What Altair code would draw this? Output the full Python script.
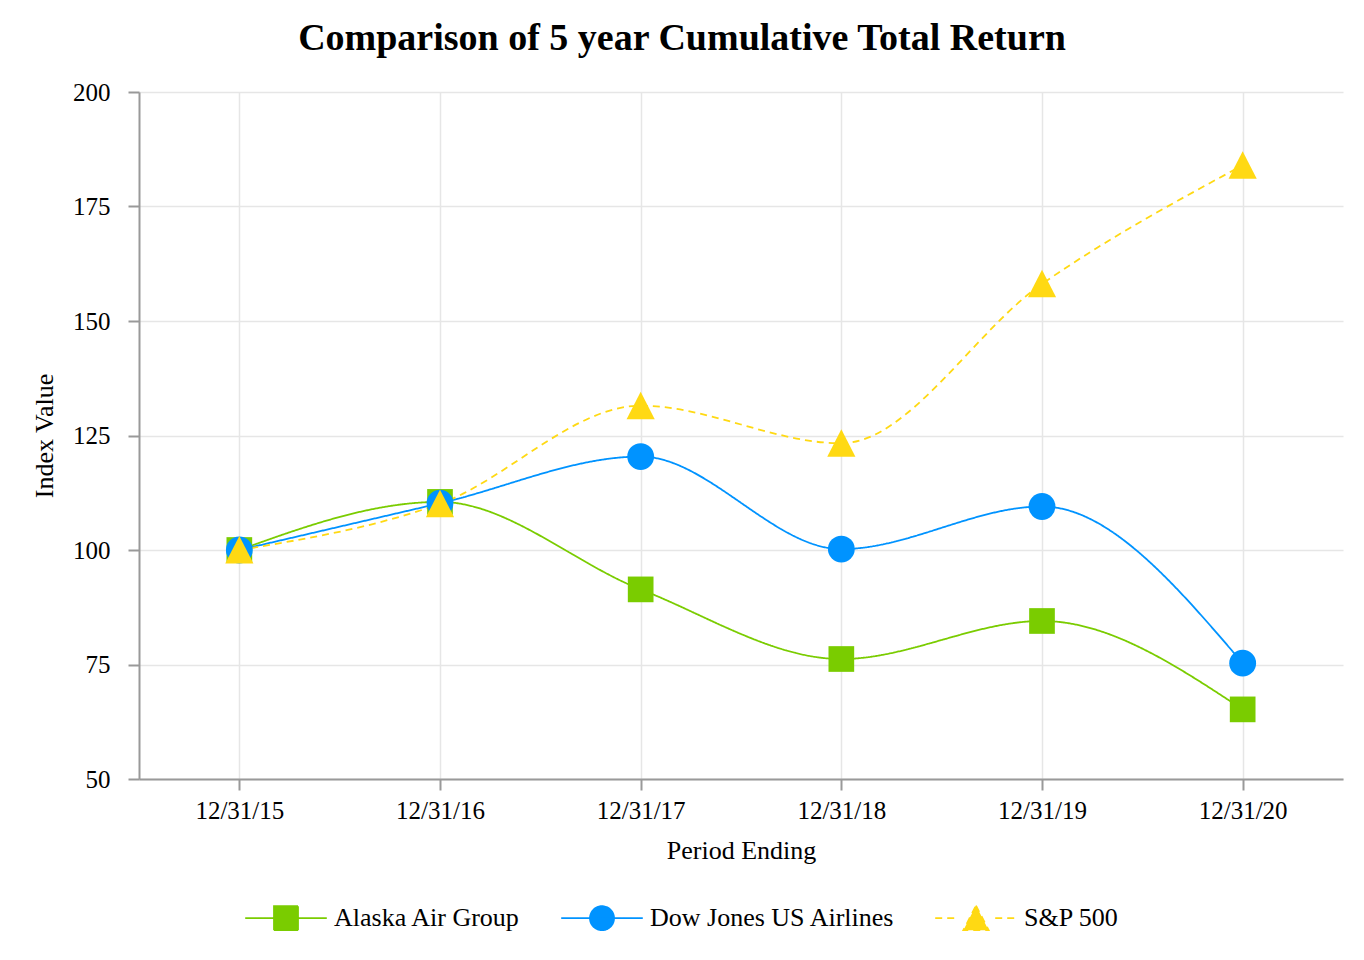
import altair as alt
import pandas as pd

periods = ["12/31/15", "12/31/16", "12/31/17", "12/31/18", "12/31/19", "12/31/20"]
series_names = ["Alaska Air Group", "Dow Jones US Airlines", "S&P 500"]
alaska = [100, 110.5, 91.4, 76.2, 84.5, 65.2]
dowjones = [100, 110.2, 120.4, 100.2, 109.5, 75.3]
sp500 = [100, 110.1, 131.5, 123.3, 158.1, 184.0]
y_ticks = [50, 75, 100, 125, 150, 175, 200]

colors = ["#7ACC00", "#0093FF", "#FFD913"]
dashes = [[1, 0], [1, 0], [7, 5]]
legend_paths = [
    "M-3.4,0H3.4M-1,-1H1V1H-1Z",
    "M-3.4,0H3.4M1,0A1,1 0 1,1 -1,0A1,1 0 1,1 1,0Z",
    "M-3.4,0H-1.6M-0.6,0H0.6M1.6,0H3.4M0,-1.05L1.05,1L-1.05,1Z",
]

rows = []
for name, vals in zip(series_names, [alaska, dowjones, sp500]):
    for i, (p, v) in enumerate(zip(periods, vals)):
        rows.append({"series": name, "period": p, "idx": i, "value": v})
df = pd.DataFrame(rows)

FONT = "Liberation Serif"

x_enc = alt.X(
    "period:N",
    sort=periods,
    scale=alt.Scale(type="point", padding=0.5),
    axis=alt.Axis(
        title="Period Ending",
        labelAngle=0,
        grid=True,
        tickSize=11,
        labelPadding=8,
        titlePadding=14,
    ),
)
y_enc = alt.Y(
    "value:Q",
    scale=alt.Scale(domain=[50, 200], nice=False, zero=False),
    axis=alt.Axis(
        title="Index Value",
        values=y_ticks,
        tickSize=11,
        labelPadding=18,
        titlePadding=15,
    ),
)
color_scale = alt.Scale(domain=series_names, range=colors)
dash_scale = alt.Scale(domain=series_names, range=dashes)

leg = alt.Legend(
    title=None,
    orient="none",
    legendX=134,
    legendY=813,
    direction="horizontal",
    columns=3,
    labelFont=FONT,
    labelFontSize=26,
    labelColor="#000000",
    labelLimit=0,
    labelOffset=35,
    columnPadding=36,
    symbolSize=576,
    symbolStrokeWidth=1.8,
)

base = alt.Chart(df)

lines = base.mark_line(interpolate="monotone", strokeWidth=1.8).encode(
    x=x_enc,
    y=y_enc,
    color=alt.Color("series:N", scale=color_scale, legend=leg),
    strokeDash=alt.StrokeDash("series:N", scale=dash_scale, legend=leg),
    order="idx:Q",
)

shapes = ["square", "circle", "M0,-1.05L1.05,1L-1.05,1Z"]
sizes = [660, 720, 720]
point_layers = []
for name, shp, sz in zip(series_names, shapes, sizes):
    point_layers.append(
        base.transform_filter(alt.datum.series == name)
        .mark_point(filled=True, opacity=1, shape=shp, size=sz)
        .encode(
            x=x_enc,
            y=y_enc,
            color=alt.Color("series:N", scale=color_scale, legend=leg),
        )
    )

legend_layer = (
    base.transform_filter(alt.datum.idx < 0)
    .mark_point(filled=True, opacity=1, strokeWidth=1.8)
    .encode(
        x=x_enc,
        y=y_enc,
        color=alt.Color("series:N", scale=color_scale, legend=leg),
        stroke=alt.Stroke("series:N", scale=color_scale, legend=leg),
        shape=alt.Shape("series:N", scale=alt.Scale(domain=series_names, range=legend_paths), legend=leg),
        strokeDash=alt.StrokeDash("series:N", scale=dash_scale, legend=leg),
    )
)

chart = (
    alt.layer(lines, *point_layers, legend_layer)
    .properties(
        width=1204,
        height=687,
        background="white",
        autosize=alt.AutoSizeParams(type="none"),
        padding={"left": 131, "top": 84, "right": 13, "bottom": 165},
        title=alt.TitleParams(
            "Comparison of 5 year Cumulative Total Return",
            font=FONT,
            fontSize=38,
            fontWeight="bold",
            color="#000000",
            anchor="middle",
            dx=-59,
            offset=22,
        ),
    )
    .configure_view(stroke=None)
    .configure_axis(
        labelFont=FONT,
        labelFontSize=25,
        labelColor="#000000",
        titleFont=FONT,
        titleFontSize=26,
        titleFontWeight="normal",
        titleColor="#000000",
        domainColor="#999999",
        domainWidth=2,
        tickColor="#999999",
        tickWidth=2,
        gridColor="#e6e6e6",
        gridWidth=1.5,
    )
)

chart.save("out.html", embed_options={"renderer": "svg", "actions": False})
